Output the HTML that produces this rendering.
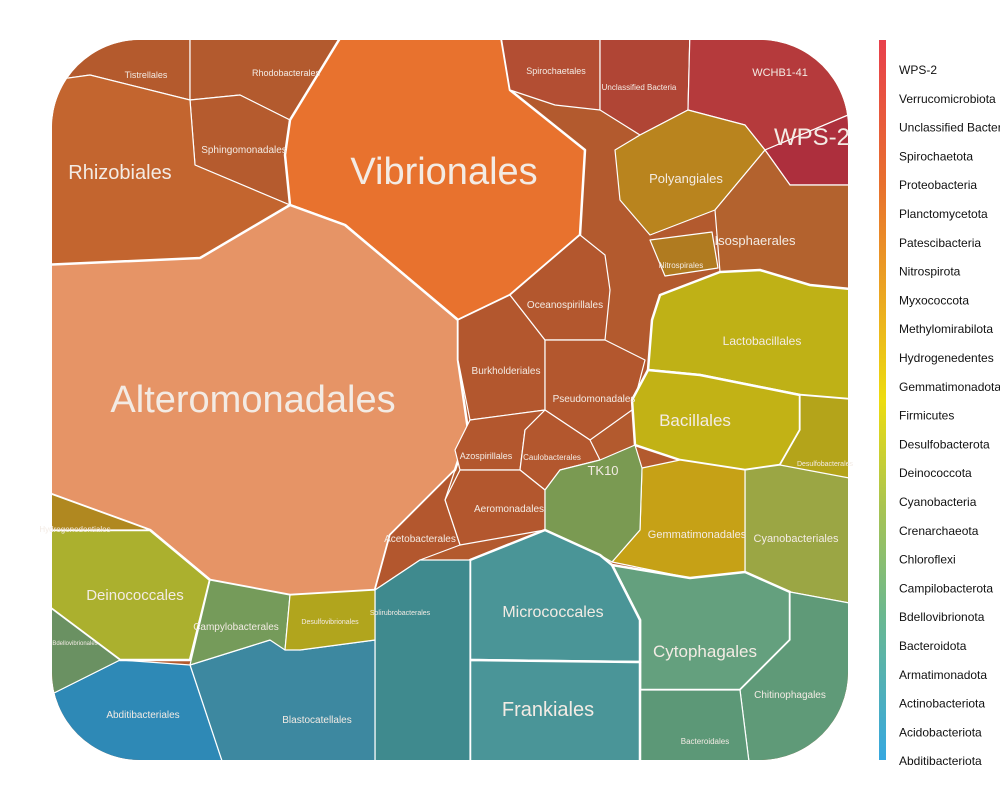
<!DOCTYPE html>
<html><head><meta charset="utf-8"><style>
html,body{margin:0;padding:0;background:#fff;width:1000px;height:800px;overflow:hidden}
svg{display:block}
text{font-family:"Liberation Sans",sans-serif}
</style></head><body>
<svg id="chart" width="1000" height="800">
<defs>
<clipPath id="clip"><rect x="52" y="40" width="796" height="720" rx="88" ry="88"/></clipPath>
<linearGradient id="cbar" x1="0" y1="0" x2="0" y2="1">
<stop offset="0" stop-color="#e8404c"/><stop offset="0.2" stop-color="#e8702e"/>
<stop offset="0.35" stop-color="#eba522"/><stop offset="0.5" stop-color="#eddc10"/>
<stop offset="0.65" stop-color="#a8c452"/><stop offset="0.8" stop-color="#6ab890"/>
<stop offset="1" stop-color="#36a8e0"/></linearGradient>
</defs>
<g id="cells" clip-path="url(#clip)">
<rect x="52" y="40" width="796" height="720" fill="#b35a2e"/>
</g>
<g id="labels"></g>
<rect x="879" y="40" width="7" height="720" fill="url(#cbar)"/>
<g id="legend"></g>
</svg>
<script>
const phyla=["WPS-2","Verrucomicrobiota","Unclassified Bacteria","Spirochaetota","Proteobacteria","Planctomycetota","Patescibacteria","Nitrospirota","Myxococcota","Methylomirabilota","Hydrogenedentes","Gemmatimonadota","Firmicutes","Desulfobacterota","Deinococcota","Cyanobacteria","Crenarchaeota","Chloroflexi","Campilobacterota","Bdellovibrionota","Bacteroidota","Armatimonadota","Actinobacteriota","Acidobacteriota","Abditibacteriota"];
const cellNames=["Tistrellales","Rhodobacterales","Sphingomonadales","Rhizobiales","Vibrionales","Alteromonadales","Burkholderiales","Oceanospirillales","Pseudomonadales","Azospirillales","Caulobacterales","Aeromonadales","Acetobacterales","Spirochaetales","Unclassified Bacteria","WCHB1-41","WPS-2","Polyangiales","Nitrospirales","Isosphaerales","Lactobacillales","Bacillales","Desulfobacterales","Cyanobacteriales","Gemmatimonadales","TK10","Cytophagales","Chitinophagales","Bacteroidales","Micrococcales","Frankiales","Solirubrobacterales","Blastocatellales","Abditibacteriales","Deinococcales","Campylobacterales","Desulfovibrionales","Bdellovibrionales","Hydrogenedentiales"];
// layout geometry (not data)
const geom={
"Tistrellales":[[40,30],[190,30],[190,100],[90,75],[40,82]],
"Rhodobacterales":[[190,30],[345,30],[290,120],[240,95],[190,100]],
"Sphingomonadales":[[190,100],[240,95],[290,120],[285,155],[290,205],[195,165]],
"Rhizobiales":[[40,82],[90,75],[190,100],[195,165],[290,205],[200,258],[40,265]],
"Vibrionales":[[290,205],[285,155],[290,120],[345,30],[500,30],[510,90],[585,150],[580,235],[510,295],[458,320],[345,225]],
"Alteromonadales":[[40,265],[200,258],[290,205],[345,225],[458,320],[458,360],[468,430],[455,470],[390,535],[375,590],[290,595],[210,580],[150,530],[40,490]],
"Burkholderiales":[[458,320],[510,295],[545,340],[545,410],[470,420],[458,360]],
"Oceanospirillales":[[510,295],[580,235],[605,255],[610,290],[605,340],[545,340]],
"Pseudomonadales":[[545,340],[605,340],[645,360],[632,410],[590,440],[545,410]],
"Azospirillales":[[470,420],[545,410],[525,430],[520,470],[460,470],[455,450]],
"Caulobacterales":[[545,410],[590,440],[600,460],[560,470],[545,490],[520,470],[525,430]],
"Aeromonadales":[[460,470],[520,470],[545,490],[545,530],[460,545],[445,500]],
"Acetobacterales":[[390,535],[455,470],[445,500],[460,545],[420,560],[375,590]],
"Spirochaetales":[[500,30],[600,30],[600,110],[555,105],[510,90]],
"Unclassified Bacteria":[[600,30],[690,30],[688,110],[640,135],[600,110]],
"WCHB1-41":[[690,30],[860,30],[860,110],[765,150],[745,125],[688,110]],
"WPS-2":[[765,150],[860,110],[860,185],[790,185]],
"Polyangiales":[[615,150],[640,135],[688,110],[745,125],[765,150],[715,210],[650,235],[620,200]],
"Nitrospirales":[[650,240],[712,232],[718,268],[665,276]],
"Isosphaerales":[[715,210],[765,150],[790,185],[860,185],[860,290],[810,285],[760,270],[720,272]],
"Lactobacillales":[[660,295],[720,272],[760,270],[810,285],[860,290],[860,400],[800,395],[750,385],[700,375],[648,370],[652,320]],
"Bacillales":[[648,370],[700,375],[750,385],[800,395],[800,430],[780,465],[745,470],[680,460],[635,445],[632,400]],
"Desulfobacterales":[[800,395],[860,400],[860,480],[800,470],[780,465],[800,430]],
"Cyanobacteriales":[[745,470],[780,465],[860,480],[860,605],[790,592],[745,572]],
"Gemmatimonadales":[[642,468],[680,460],[745,470],[745,572],[690,578],[612,562],[640,530]],
"TK10":[[560,470],[600,460],[635,445],[642,468],[640,530],[612,562],[600,555],[555,540],[545,530],[545,490]],
"Cytophagales":[[612,565],[690,578],[745,572],[790,592],[790,640],[740,690],[640,690],[640,620]],
"Chitinophagales":[[740,690],[790,640],[790,592],[860,605],[860,770],[750,770]],
"Bacteroidales":[[640,690],[740,690],[750,770],[640,770]],
"Micrococcales":[[470,560],[545,530],[600,555],[612,565],[640,620],[640,662],[470,660]],
"Frankiales":[[470,660],[640,662],[640,770],[470,770]],
"Solirubrobacterales":[[375,590],[420,560],[470,560],[470,770],[375,770]],
"Blastocatellales":[[190,665],[270,640],[300,650],[375,640],[375,770],[225,770]],
"Abditibacteriales":[[40,700],[120,660],[190,665],[225,770],[40,770]],
"Deinococcales":[[40,530],[150,530],[210,580],[190,660],[120,660],[40,600]],
"Campylobacterales":[[210,580],[290,595],[285,650],[270,640],[190,665]],
"Desulfovibrionales":[[290,595],[375,590],[375,640],[300,650],[285,650]],
"Bdellovibrionales":[[40,600],[120,660],[40,700]],
"Hydrogenedentiales":[[40,490],[150,530],[40,530]]
};
const fills={"Tistrellales":"#b45a2d","Rhodobacterales":"#b35a2e","Sphingomonadales":"#b55b2e","Rhizobiales":"#c3652f","Vibrionales":"#e8722e","Alteromonadales":"#e69466","Burkholderiales":"#b3572e","Oceanospirillales":"#b3572e","Pseudomonadales":"#b3572e","Azospirillales":"#b3572e","Caulobacterales":"#b3572e","Aeromonadales":"#b3572e","Acetobacterales":"#b3572e","Spirochaetales":"#b34e33","Unclassified Bacteria":"#b04535","WCHB1-41":"#b53a3c","WPS-2":"#ad2f3d","Polyangiales":"#b9841e","Nitrospirales":"#b07b20","Isosphaerales":"#b3622e","Lactobacillales":"#bfb116","Bacillales":"#c2b215","Desulfobacterales":"#b4a41a","Cyanobacteriales":"#9ba644","Gemmatimonadales":"#c6a116","TK10":"#7a9a52","Cytophagales":"#64a07e","Chitinophagales":"#5f9a78","Bacteroidales":"#5c9877","Micrococcales":"#4a9597","Frankiales":"#4a9598","Solirubrobacterales":"#3f8a8e","Blastocatellales":"#3d88a0","Abditibacteriales":"#2e89b6","Deinococcales":"#abb02e","Campylobacterales":"#759b5a","Desulfovibrionales":"#b1a51d","Bdellovibrionales":"#6a9162","Hydrogenedentiales":"#b08820"};
const lbl={"Tistrellales":[146,78,9],"Rhodobacterales":[286,76,9],"Sphingomonadales":[244,153,10],"Rhizobiales":[120,179,20],"Vibrionales":[444,184,38],"Alteromonadales":[253,412,38],"Burkholderiales":[506,374,10],"Oceanospirillales":[565,308,10],"Pseudomonadales":[594,402,10],"Azospirillales":[486,459,9],"Caulobacterales":[552,460,8],"Aeromonadales":[509,512,10],"Acetobacterales":[420,542,10],"Spirochaetales":[556,74,9],"Unclassified Bacteria":[639,90,8],"WCHB1-41":[780,76,11],"WPS-2":[812,145,24],"Polyangiales":[686,183,13],"Nitrospirales":[681,268,8],"Isosphaerales":[755,245,13],"Lactobacillales":[762,345,12],"Bacillales":[695,426,17],"Desulfobacterales":[825,466,7],"Cyanobacteriales":[796,542,11],"Gemmatimonadales":[697,538,11],"TK10":[603,475,13],"Cytophagales":[705,657,17],"Chitinophagales":[790,698,10],"Bacteroidales":[705,744,8],"Micrococcales":[553,617,16],"Frankiales":[548,716,20],"Solirubrobacterales":[400,615,7],"Blastocatellales":[317,723,10],"Abditibacteriales":[143,718,10],"Deinococcales":[135,600,15],"Campylobacterales":[236,630,10],"Desulfovibrionales":[330,624,7],"Bdellovibrionales":[75,645,6],"Hydrogenedentiales":[75,532,8]};
const NS="http://www.w3.org/2000/svg";
const cg=document.getElementById('cells'),lg=document.getElementById('labels');
cellNames.forEach(n=>{
 const p=document.createElementNS(NS,'polygon');
 p.setAttribute('points',geom[n].map(q=>q.join(',')).join(' '));
 p.setAttribute('fill',fills[n]);p.setAttribute('stroke','#fff');
 p.setAttribute('stroke-width',/Alteromonadales|Vibrionales|Bacillales|Lactobacillales|Micrococcales|Frankiales|Cytophagales|Deinococcales/.test(n)?2.5:1.2);
 p.setAttribute('stroke-linejoin','round');
 
 
 cg.appendChild(p);
 const L=lbl[n];const t=document.createElementNS(NS,'text');
 t.setAttribute('x',L[0]);t.setAttribute('y',L[1]);t.setAttribute('font-size',L[2]);
 t.setAttribute('text-anchor','middle');t.setAttribute('fill','#f3ebe4');
 t.textContent=n;
 
 
 lg.appendChild(t);
});
const leg=document.getElementById('legend');
phyla.forEach((n,i)=>{
 const t=document.createElementNS(NS,'text');
 t.setAttribute('x',899);t.setAttribute('y',74+i*28.8);t.setAttribute('font-size',12);t.setAttribute('fill','#111');
 t.textContent=n;
 
 
 leg.appendChild(t);
});
</script>
</body></html>
